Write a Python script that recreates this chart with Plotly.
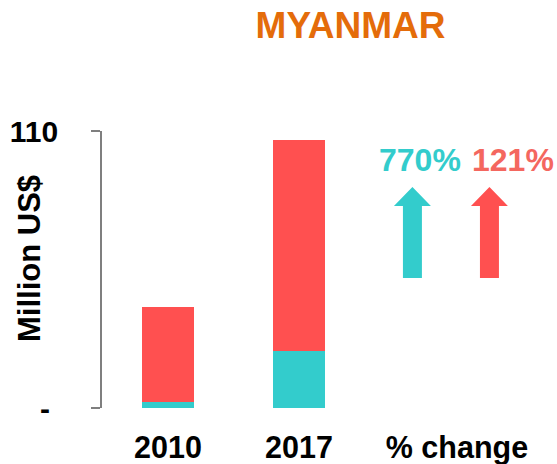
import plotly.graph_objects as go

# ---- data ----
years = ["2010", "2017"]
teal_values = [2.4, 22.6]
red_values = [37.7, 83.8]
x_tick_labels = ["2010", "2017", "% change"]
pct_labels = ["770%", "121%"]
y_tick_vals = [0, 110]
y_tick_text = ["-\u00a0", "110"]

TEAL = "#33CCCC"
RED = "#FF5050"
RED_TXT = "#F4675F"
ORANGE = "#E46C0A"
GRAY = "#7F7F7F"
FONT = "Liberation Sans, Arial, sans-serif"

bar_x = [0, 1]
fig = go.Figure()
fig.add_trace(go.Bar(x=bar_x, y=teal_values, marker_color=TEAL, width=0.397,
                     marker_line_width=0, showlegend=False, hoverinfo="skip"))
fig.add_trace(go.Bar(x=bar_x, y=red_values, marker_color=RED, width=0.397,
                     marker_line_width=0, showlegend=False, hoverinfo="skip"))

# arrows (block arrows pointing up) in the "% change" column
arrow_centers = [1.866, 2.454]
arrow_colors = [TEAL, RED]
shaft_bottom, head_base, head_tip = 51.6, 80.2, 87.8
shaft_hw, head_hw = 0.0725, 0.141
for cx, col in zip(arrow_centers, arrow_colors):
    path = (f"M {cx-shaft_hw},{shaft_bottom} L {cx+shaft_hw},{shaft_bottom} "
            f"L {cx+shaft_hw},{head_base} L {cx+head_hw},{head_base} "
            f"L {cx},{head_tip} L {cx-head_hw},{head_base} "
            f"L {cx-shaft_hw},{head_base} Z")
    fig.add_shape(type="path", path=path, xref="x", yref="y",
                  fillcolor=col, line_width=0)

pct_x = [1.927, 2.637]
pct_colors = [TEAL, RED_TXT]
for px, lab, col in zip(pct_x, pct_labels, pct_colors):
    fig.add_annotation(x=px, y=98.5, xref="x", yref="y", text=lab, showarrow=False,
                       font=dict(family=FONT, size=32, color=col, weight="bold"),
                       xanchor="center", yanchor="middle")

fig.add_annotation(x=(29-102)/438, y=(408-259)/277, xref="paper", yref="paper",
                   text="Million US$", showarrow=False, textangle=-90,
                   font=dict(family=FONT, size=31, color="black", weight="bold"),
                   xanchor="center", yanchor="middle")

fig.update_layout(
    width=557, height=464,
    margin=dict(l=102, r=17, t=131, b=56, autoexpand=False),
    paper_bgcolor="white", plot_bgcolor="white",
    barmode="stack",
    title=dict(text="MYANMAR", x=350.5/557, xref="container", xanchor="center",
               y=1-25.5/464, yref="container", yanchor="middle",
               font=dict(family=FONT, size=37, color=ORANGE, weight="bold")),
    xaxis=dict(range=[-0.504, 2.84], tickmode="array", tickvals=[0, 1, 2.206],
               ticktext=x_tick_labels, showgrid=False, zeroline=False, showline=False,
               ticks="", ticklabelstandoff=18, automargin=False,
               tickfont=dict(family=FONT, size=30.5, color="black", weight="bold")),
    yaxis=dict(range=[0, 110], tickmode="array", tickvals=y_tick_vals,
               ticktext=y_tick_text, showgrid=False, zeroline=False,
               showline=True, linecolor=GRAY, linewidth=1.5,
               ticks="outside", ticklen=9, tickcolor=GRAY, tickwidth=1.5,
               ticklabelstandoff=27, automargin=False,
               tickfont=dict(family=FONT, size=30, color="black", weight="bold")),
)

fig.write_html("out.html", config={"displayModeBar": False},
               post_script="document.body.style.margin='0';document.body.style.overflow='hidden';")
